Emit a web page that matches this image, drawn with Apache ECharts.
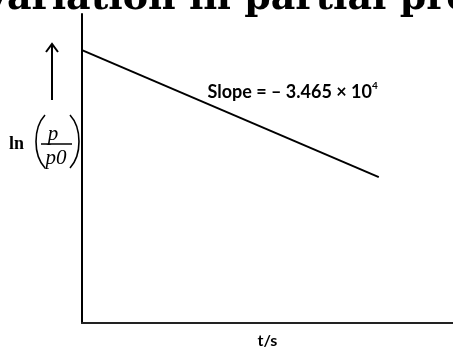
<!DOCTYPE html>
<html>
<head>
<meta charset="utf-8">
<script src="https://cdn.jsdelivr.net/npm/echarts@6/dist/echarts.min.js"></script>
<style>html,body{margin:0;padding:0;background:#fff;}#main{width:453px;height:348px;}</style>
</head>
<body>
<div id="main"></div>
<script>
// Data (arbitrary units)
var titleText = 'Variation in partial pressure with time';
var timeValues = [0, 80];
var lnRatioValues = [88.3, 47.2];
var slopeLabel = 'Slope = \u2013 3.465 \u00d7 10';
var slopeExponent = '4';
var xAxisName = 't/s';

var chart = echarts.init(document.getElementById('main'), null, {renderer: 'canvas'});
var option = {
  backgroundColor: '#ffffff',
  animation: false,
  title: {
    text: titleText,
    left: -24,
    top: -25,
    textStyle: {fontFamily: 'DejaVu Serif', fontWeight: 'bold', fontSize: 38, color: '#000'}
  },
  grid: {left: 82, right: 0, top: 14, bottom: 25, containLabel: false, outerBoundsMode: 'none'},
  xAxis: {
    type: 'value', min: 0, max: 100,
    name: xAxisName, nameLocation: 'middle', nameGap: 10,
    nameTextStyle: {fontFamily: 'Lato', fontWeight: 'bold', fontSize: 16, color: '#000', verticalAlign: 'top'},
    axisLine: {show: true, lineStyle: {color: '#222', width: 2}},
    axisTick: {show: false}, axisLabel: {show: false}, splitLine: {show: false}
  },
  yAxis: {
    type: 'value', min: 0, max: 100,
    axisLine: {show: true, onZero: false, lineStyle: {color: '#000', width: 2}},
    axisTick: {show: false}, axisLabel: {show: false}, splitLine: {show: false}
  },
  series: [{
    type: 'line',
    data: timeValues.map(function (t, i) { return [t, lnRatioValues[i]]; }),
    symbol: 'none',
    lineStyle: {color: '#000', width: 2},
    markPoint: {
      symbol: 'circle', symbolSize: 0,
      data: [{coord: [33, 75]}],
      label: {
        show: true, position: 'right', offset: [-2, 1],
        formatter: '{a|' + slopeLabel + '}{s|' + slopeExponent + '}',
        rich: {
          a: {fontFamily: 'Lato', fontWeight: 'bold', fontSize: 18, color: '#000'},
          s: {fontFamily: 'Lato', fontWeight: 'bold', fontSize: 10, color: '#000', verticalAlign: 'top', padding: [0, 0, 12, 0]}
        }
      }
    }
  }],
  graphic: [
    // upward arrow
    {type: 'line', shape: {x1: 52, y1: 100, x2: 52, y2: 45}, style: {stroke: '#000', lineWidth: 2}},
    {type: 'polyline', shape: {points: [[46, 52], [52, 44], [58, 52]]}, style: {stroke: '#000', lineWidth: 2, fill: null}},
    // ln ( p / p0 )
    {type: 'text', x: 9, y: 144, style: {text: 'ln', font: 'bold 18px "Liberation Serif"', fill: '#000', textVerticalAlign: 'middle'}},
    {type: 'bezierCurve', shape: {x1: 45, y1: 115, cpx1: 33, cpy1: 128, cpx2: 33, cpy2: 155, x2: 45, y2: 168}, style: {stroke: '#000', lineWidth: 1.6, fill: null}},
    {type: 'bezierCurve', shape: {x1: 70, y1: 115, cpx1: 82, cpy1: 128, cpx2: 82, cpy2: 155, x2: 70, y2: 168}, style: {stroke: '#000', lineWidth: 1.6, fill: null}},
    {type: 'text', x: 53, y: 134, style: {text: 'p', font: 'italic 21px "Liberation Serif"', fill: '#000', textAlign: 'center', textVerticalAlign: 'middle'}},
    {type: 'line', shape: {x1: 41, y1: 144, x2: 72, y2: 144}, style: {stroke: '#000', lineWidth: 1.5}},
    {type: 'text', x: 56, y: 158, style: {text: 'p0', font: 'italic 21px "Liberation Serif"', fill: '#000', textAlign: 'center', textVerticalAlign: 'middle'}}
  ]
};
chart.setOption(option);
</script>
</body>
</html>
